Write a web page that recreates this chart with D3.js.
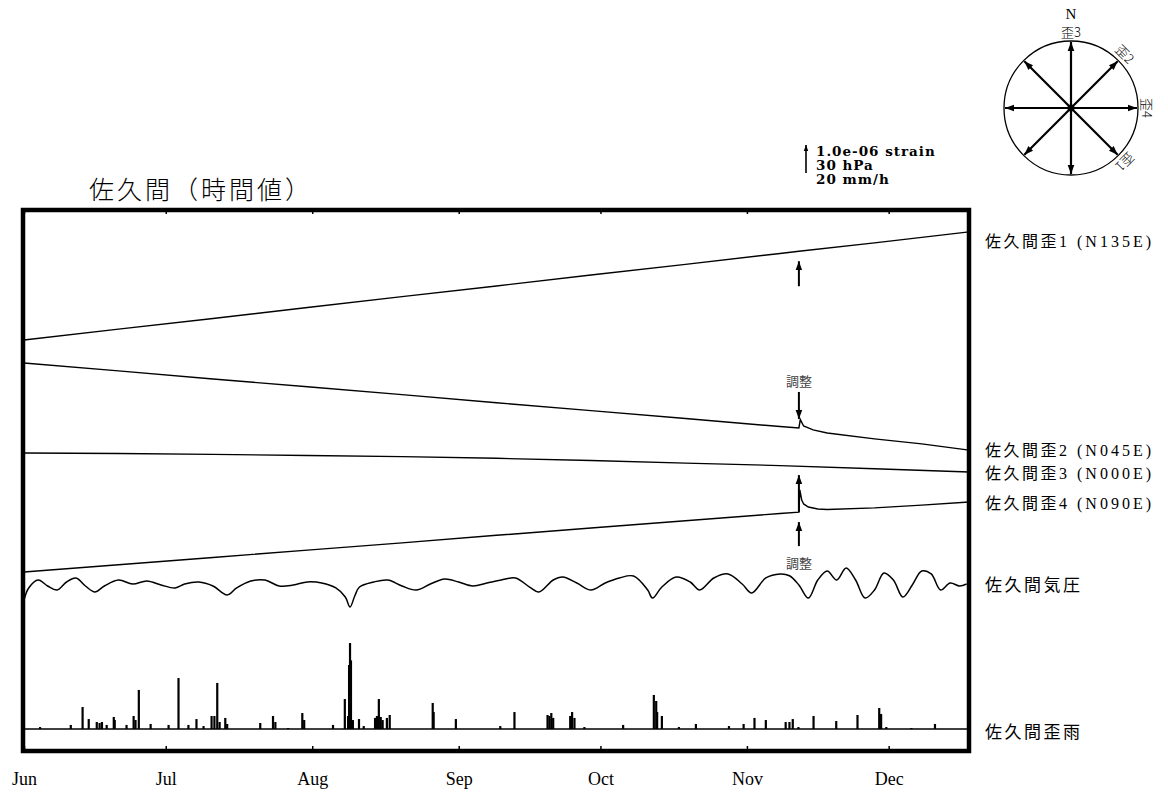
<!DOCTYPE html>
<html>
<head>
<meta charset="utf-8">
<script src="https://cdn.jsdelivr.net/npm/d3@7"></script>
<style>
  body { margin: 0; background: #fff; }
  svg { display: block; }
</style>
</head>
<body>
<svg id="chart" width="1168" height="792"></svg>
<script>
// ---- Sakuma station, hourly records (day 0 = Jun 1) ----
const months = ["Jun", "Jul", "Aug", "Sep", "Oct", "Nov", "Dec"];
const totalDays = 200;          // Jun 1 .. Dec 18
const adjustDay = 164;          // instrument adjustment (調整)

// strain components: name suffix and azimuth
const strainNo = [1, 2, 3, 4];
const strainAzimuth = [135, 45, 0, 90];

// strain traces, units of 1.0e-06
const strain1Day = [0, 20, 40, 60, 80, 100, 120, 140, 160, 164, 180, 200];
const strain1 = [0, 0.39, 0.77, 1.16, 1.55, 1.93, 2.32, 2.70, 3.09, 3.17, 3.47, 3.86];

const strain2Day = [0, 20, 40, 60, 80, 100, 120, 140, 160, 164, 164.3, 165, 167, 170, 180, 190, 200];
const strain2 = [0, -0.28, -0.57, -0.85, -1.13, -1.42, -1.70, -1.98, -2.27, -2.32, -2.02, -2.25, -2.39, -2.50, -2.71, -2.89, -3.11];

const strain3Day = [0, 20, 40, 60, 80, 100, 120, 140, 160, 180, 200];
const strain3 = [0, -0.02, -0.05, -0.09, -0.13, -0.19, -0.27, -0.36, -0.45, -0.56, -0.68];

const strain4Day = [0, 20, 40, 60, 80, 100, 120, 140, 160, 164, 164.2, 164.6, 165, 166, 168, 170, 180, 190, 200];
const strain4 = [0, 0.26, 0.52, 0.78, 1.04, 1.31, 1.57, 1.83, 2.09, 2.14, 2.93, 2.57, 2.43, 2.32, 2.25, 2.23, 2.29, 2.39, 2.50];

// air pressure, hPa
const pressureDay = [0, 1, 3, 5, 7, 9, 11, 13, 15, 17, 20, 23, 26, 29, 32, 34, 37, 40, 43, 45, 48, 51, 54, 57, 60, 63, 66, 68, 69, 70, 71, 74, 77, 80, 83, 86, 89, 92, 95, 98, 101, 104, 107, 109, 112, 114, 117, 120, 123, 126, 129, 132, 133, 135, 138, 141, 143, 146, 149, 152, 154, 157, 160, 162, 164, 166, 168, 170, 172, 174, 176, 178, 180, 182, 184, 186, 188, 190, 192, 194, 196, 198, 199.5];
const pressureHpa = [970.0, 982.9, 991.4, 985.0, 980.7, 989.3, 993.6, 985.0, 978.6, 985.0, 991.4, 987.1, 990.4, 986.1, 982.9, 987.1, 989.3, 985.0, 975.4, 982.9, 990.4, 991.4, 985.0, 986.1, 989.3, 988.2, 982.9, 973.2, 962.5, 974.3, 983.9, 989.3, 991.4, 985.0, 980.7, 987.1, 992.5, 989.3, 985.0, 988.2, 991.4, 993.6, 983.9, 978.6, 991.4, 994.6, 988.2, 980.7, 988.2, 993.6, 995.7, 980.7, 972.1, 983.9, 994.6, 989.3, 980.7, 993.6, 997.9, 987.1, 977.5, 993.6, 997.9, 996.0, 986.1, 972.1, 991.4, 1001.1, 991.4, 1004.3, 991.4, 972.1, 980.7, 998.9, 991.4, 973.2, 986.1, 1001.1, 997.9, 980.7, 988.2, 985.0, 987.1];

// rainfall, mm/h
const rainDay = [3.4, 9.9, 12.4, 13.7, 15.4, 16.0, 16.5, 17.5, 19.0, 19.2, 21.7, 23.2, 23.6, 24.3, 26.8, 30.6, 32.7, 34.8, 36.5, 38.0, 39.7, 40.3, 40.9, 41.4, 42.6, 43.0, 50.0, 52.7, 53.2, 55.9, 58.9, 59.3, 65.4, 67.9, 68.6, 68.8, 69.0, 69.2, 69.6, 70.9, 71.9, 74.3, 74.7, 75.1, 75.5, 75.9, 76.8, 77.4, 86.5, 86.7, 91.4, 100.8, 103.8, 110.8, 111.2, 111.6, 112.0, 115.6, 116.0, 116.5, 118.6, 126.8, 133.3, 133.8, 134.0, 135.0, 138.6, 142.2, 149.2, 152.3, 154.6, 157.0, 161.2, 162.0, 162.7, 163.9, 167.1, 171.9, 176.4, 181.0, 181.4, 182.5, 187.8, 192.8];
const rainMm = [1.4, 2.9, 15.7, 7.1, 5.0, 4.3, 5.0, 2.9, 8.6, 6.4, 2.9, 9.3, 6.4, 27.9, 3.6, 2.9, 36.4, 2.9, 7.1, 2.1, 9.3, 9.3, 32.9, 5.0, 7.9, 3.6, 4.3, 9.3, 5.0, 0.7, 11.4, 6.4, 2.9, 21.4, 9.3, 45.7, 61.4, 49.0, 6.4, 7.1, 2.1, 7.9, 9.3, 21.4, 8.6, 6.4, 7.9, 10.0, 18.6, 12.1, 7.1, 2.1, 12.1, 10.0, 9.3, 11.4, 7.9, 9.3, 12.1, 7.9, 1.4, 2.9, 24.3, 20.0, 12.1, 9.3, 1.4, 3.6, 2.1, 3.6, 7.9, 6.4, 5.0, 5.0, 7.1, 1.4, 9.3, 5.7, 10.0, 15.0, 10.7, 1.4, 0.7, 3.6];

// scale-bar legend
const scaleLegend = ["1.0e-06 strain", "30 hPa", "20 mm/h"];

// ---- layout ----
const svg = d3.select("#chart");
const frame = { left: 23, top: 210, right: 969, bottom: 751 };
const unitPx = 28;   // length of the scale-bar arrow
const jpFont = "'Noto Sans CJK JP', 'Noto Sans', sans-serif";
const serifFont = "'Liberation Serif', 'Times New Roman', serif";

const t0 = Date.UTC(2001, 5, 1);
const toDate = d => new Date(t0 + d * 864e5);
const x = d3.scaleUtc().domain([toDate(0), toDate(totalDays)]).range([24, 969]);

// one vertical scale per track
const strainZero = [340, 363, 453, 572];
const yStrain = strainZero.map(z => d3.scaleLinear().domain([0, 1]).range([z, z - unitPx]));
const yPressure = d3.scaleLinear().domain([985, 1015]).range([586, 586 - unitPx]);
const yRain = d3.scaleLinear().domain([0, 20]).range([729, 729 - unitPx]);

// arrowheads
const defs = svg.append("defs");
function addHead(id, size) {
  defs.append("marker")
    .attr("id", id)
    .attr("viewBox", "0 0 10 10")
    .attr("refX", 10).attr("refY", 5)
    .attr("markerWidth", size).attr("markerHeight", size)
    .attr("markerUnits", "userSpaceOnUse")
    .attr("orient", "auto")
    .append("path").attr("d", "M0,1.3L10,5L0,8.7Z").attr("fill", "#000");
}
addHead("head", 9);
addHead("headSmall", 6);

// ---- title ----
svg.append("text")
  .attr("x", 89).attr("y", 199)
  .attr("font-family", jpFont).attr("font-size", 25).attr("letter-spacing", 3)
  .attr("font-weight", 300)
  .text("佐久間（時間値）");

// ---- axes (ticks inside the frame) ----
const monthTicks = d3.utcMonth.range(toDate(0), toDate(totalDays));
const bottomAxis = d3.axisBottom(x)
  .tickValues(monthTicks)
  .tickSize(-5)
  .tickPadding(21)
  .tickFormat((d, i) => months[i]);
const gb = svg.append("g").attr("transform", `translate(0,${frame.bottom})`).call(bottomAxis);
gb.select(".domain").remove();
gb.selectAll(".tick line").attr("stroke", "#000").attr("stroke-width", 1.5);
gb.selectAll(".tick text")
  .attr("font-family", serifFont).attr("font-size", 18).attr("fill", "#000");

const topAxis = d3.axisTop(x).tickValues(monthTicks).tickSize(-4).tickFormat("");
const gt = svg.append("g").attr("transform", `translate(0,${frame.top})`).call(topAxis);
gt.select(".domain").remove();
gt.selectAll(".tick line").attr("stroke", "#000").attr("stroke-width", 1.5);

// ---- strain traces ----
const strainDays = [strain1Day, strain2Day, strain3Day, strain4Day];
const strainVals = [strain1, strain2, strain3, strain4];
const plot = svg.append("g");

strainVals.forEach((vals, k) => {
  const pts = vals.map((v, i) => [strainDays[k][i], v]);
  const line = d3.line().x(d => x(toDate(d[0]))).y(d => yStrain[k](d[1]));
  plot.append("path").datum(pts)
    .attr("d", line).attr("fill", "none")
    .attr("stroke", "#000").attr("stroke-width", 1.4);
});

// ---- pressure ----
const pPts = pressureHpa.map((v, i) => [pressureDay[i], v]);
plot.append("path").datum(pPts)
  .attr("d", d3.line().curve(d3.curveCatmullRom.alpha(0.5))
    .x(d => x(toDate(d[0]))).y(d => yPressure(d[1])))
  .attr("fill", "none").attr("stroke", "#000").attr("stroke-width", 1.5);

// ---- rain ----
plot.append("line")
  .attr("x1", x(toDate(0))).attr("x2", x(toDate(totalDays)))
  .attr("y1", yRain(0)).attr("y2", yRain(0))
  .attr("stroke", "#000").attr("stroke-width", 1.6);
plot.selectAll("rect.rain")
  .data(rainMm.map((v, i) => [rainDay[i], v]))
  .join("rect").attr("class", "rain")
  .attr("x", d => x(toDate(d[0])) - 1.1)
  .attr("width", 2.2)
  .attr("y", d => yRain(d[1]))
  .attr("height", d => yRain(0) - yRain(d[1]))
  .attr("fill", "#000");

// ---- frame ----
svg.append("rect")
  .attr("x", frame.left).attr("y", frame.top)
  .attr("width", frame.right - frame.left).attr("height", frame.bottom - frame.top)
  .attr("fill", "none").attr("stroke", "#000").attr("stroke-width", 4.5);

// ---- adjustment annotations ----
const interp = (days, vals, d) => {
  const i = d3.bisectLeft(days, d);
  if (days[i] === d) return vals[i];
  const t = (d - days[i - 1]) / (days[i] - days[i - 1]);
  return vals[i - 1] + t * (vals[i] - vals[i - 1]);
};
const ax = x(toDate(adjustDay));
const arrow = (y1, y2) => svg.append("line")
  .attr("x1", ax).attr("x2", ax).attr("y1", y1).attr("y2", y2)
  .attr("stroke", "#000").attr("stroke-width", 2).attr("marker-end", "url(#head)");
const note = (y) => svg.append("text")
  .attr("x", ax).attr("y", y).attr("text-anchor", "middle")
  .attr("font-family", jpFont).attr("font-size", 13).attr("fill", "#444")
  .text("調整");

const y1a = yStrain[0](interp(strain1Day, strain1, adjustDay));
arrow(y1a + 35, y1a + 10);
const y2a = yStrain[1](interp(strain2Day, strain2, adjustDay));
arrow(y2a - 36, y2a - 9);
note(y2a - 42);
const y4a = yStrain[3](interp(strain4Day, strain4, adjustDay));
arrow(y4a, y4a - 37);
arrow(y4a + 34, y4a + 10);
note(y4a + 56);

// ---- right-hand labels ----
const endY = k => yStrain[k](strainVals[k][strainVals[k].length - 1]);
const labelNudge = [9, 0, 1, 1];
const pad3 = n => String(n).padStart(3, "0");
const labels = svg.append("g").attr("font-size", 16);
strainNo.forEach((n, k) => {
  const t = labels.append("text")
    .attr("x", 985).attr("y", endY(k) + labelNudge[k]).attr("dy", "0.36em");
  t.append("tspan").attr("font-family", jpFont).attr("letter-spacing", 2.5).text("佐久間歪");
  t.append("tspan").attr("font-family", serifFont).attr("letter-spacing", 3)
    .text(`${n} (N${pad3(strainAzimuth[k])}E)`);
});
labels.append("text")
  .attr("x", 985).attr("y", yPressure(pressureHpa[pressureHpa.length - 1]) + 1).attr("dy", "0.36em")
  .attr("font-family", jpFont).attr("font-size", 17).attr("letter-spacing", 2.5).text("佐久間気圧");
labels.append("text")
  .attr("x", 985).attr("y", yRain(0) + 3).attr("dy", "0.36em")
  .attr("font-family", jpFont).attr("font-size", 17).attr("letter-spacing", 2.5).text("佐久間歪雨");

// ---- scale bar ----
const sbX = 806, sbBottom = 173;
svg.append("line")
  .attr("x1", sbX).attr("x2", sbX)
  .attr("y1", sbBottom).attr("y2", sbBottom - unitPx)
  .attr("stroke", "#000").attr("stroke-width", 1.6)
  .attr("marker-end", "url(#headSmall)");
svg.append("g").selectAll("text").data(scaleLegend).join("text")
  .attr("x", sbX + 10).attr("y", (d, i) => 156 + i * 14)
  .attr("font-family", "'DejaVu Serif', serif").attr("font-weight", "bold")
  .attr("font-size", 13.5).attr("letter-spacing", 1)
  .text(d => d);

// ---- direction rose ----
const cx = 1071, cy = 108, R = 67;
const rose = svg.append("g").attr("transform", `translate(${cx},${cy})`);
rose.append("circle").attr("r", R).attr("fill", "none").attr("stroke", "#000").attr("stroke-width", 1.3);
d3.range(0, 360, 45).forEach(az => {
  const a = az * Math.PI / 180;
  rose.append("line")
    .attr("x1", 0).attr("y1", 0)
    .attr("x2", Math.sin(a) * (R - 1)).attr("y2", -Math.cos(a) * (R - 1))
    .attr("stroke", "#000").attr("stroke-width", 2.2)
    .attr("marker-end", "url(#head)");
});
rose.append("circle").attr("r", 3.5).attr("fill", "#000");
strainAzimuth.forEach((az, k) => {
  const a = az * Math.PI / 180, r = 76;
  rose.append("text")
    .attr("transform", `translate(${Math.sin(a) * r},${-Math.cos(a) * r}) rotate(${az})`)
    .attr("text-anchor", "middle").attr("dy", "0.36em")
    .attr("font-family", jpFont).attr("font-size", 13).attr("font-weight", 300)
    .text("歪" + strainNo[k]);
});
rose.append("text")
  .attr("x", 0).attr("y", -94).attr("dy", "0.36em")
  .attr("text-anchor", "middle")
  .attr("font-family", serifFont).attr("font-size", 15)
  .text("N");
</script>
</body>
</html>
